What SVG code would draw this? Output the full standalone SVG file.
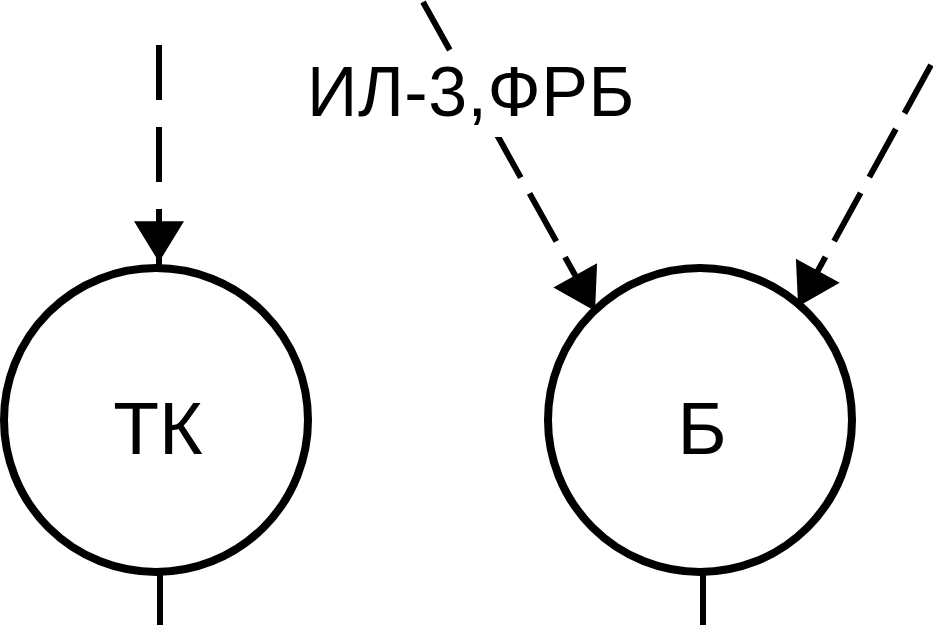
<svg xmlns="http://www.w3.org/2000/svg" width="933" height="625" viewBox="0 0 933 625">
<style>
.node{fill:none;stroke:#000;stroke-width:8}
.lbl{font-family:"Liberation Sans",Arial,sans-serif;fill:#000;text-anchor:middle}
.dash{fill:none;stroke:#000;stroke-width:6}
.solid{fill:none;stroke:#000;stroke-width:6}
</style>
<defs>
<marker id="ah" markerUnits="userSpaceOnUse" markerWidth="42" markerHeight="50" refX="35" refY="24.5" orient="auto" viewBox="0 0 40 49">
<path d="M0,0 L40,24.5 L0,49 z" fill="#000"/>
</marker>
</defs>
<rect width="933" height="625" fill="#fff"/>
<g id="connectors">
<line class="dash" x1="159" y1="45" x2="159" y2="257" stroke-dasharray="55 27" marker-end="url(#ah)"/>
<line class="solid" x1="159" y1="255" x2="159" y2="266"/>
<line class="dash" x1="423" y1="2" x2="592.6" y2="306.6" stroke-dasharray="55 18" marker-end="url(#ah)"/>
<line class="dash" x1="931" y1="65" x2="800.6" y2="302.1" stroke-dasharray="55 18" marker-end="url(#ah)"/>
<line class="solid" x1="160" y1="573" x2="160" y2="625"/>
<line class="solid" x1="703" y1="573" x2="703" y2="625"/>
</g>
<g id="label-il3">
<rect x="300" y="56" width="340" height="81" fill="#fff"/>
<text class="lbl" x="471" y="116" font-size="70" letter-spacing="0.5">ИЛ-3,ФРБ</text>
</g>
<g id="node-tk">
<circle class="node" cx="156" cy="420" r="152"/>
<text class="lbl" x="158" y="454" font-size="75">ТК</text>
</g>
<g id="node-b">
<circle class="node" cx="700" cy="420" r="152"/>
<text class="lbl" x="702" y="454" font-size="75">Б</text>
</g>
</svg>
